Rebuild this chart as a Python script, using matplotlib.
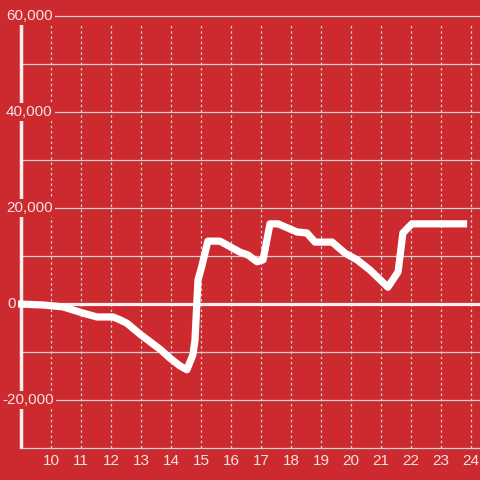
import matplotlib
matplotlib.use("Agg")
import matplotlib.pyplot as plt
from matplotlib.transforms import blended_transform_factory

# data
xs = [8.9, 9.73, 10.4, 11.07, 11.53, 12.07, 12.3, 12.53, 12.97, 13.63, 13.97, 14.3, 14.53,
      14.73, 14.8, 14.9, 15.02, 15.23, 15.63, 16.3, 16.57, 16.87, 17.07, 17.3, 17.57,
      18.2, 18.53, 18.8, 19.37, 19.8, 20.2, 20.63, 21.23, 21.57, 21.73, 22.03, 23.87]
ys = [0, -200, -600, -1900, -2700, -2700, -3300, -4000, -6300, -9400, -11300, -12900, -13700,
      -10600, -7500, 5000, 7700, 13100, 13100, 10800, 10200, 8800, 9200, 16700, 16700,
      15000, 14800, 12900, 12900, 10600, 9200, 7100, 3500, 6700, 14800, 16700, 16700]
x_ticks = list(range(10, 25))
y_ticks = [-20000, 0, 20000, 40000, 60000]
y_tick_labels = ["-20,000", "0", "20,000", "40,000", "60,000"]
y_grid = list(range(-30000, 60001, 10000))

BG = "#cd2a2f"
GRID = "#d2d2d2"
TXT = "#f3e2e2"

plt.rcParams['font.family'] = ['Liberation Sans', 'DejaVu Sans']
fig = plt.figure(figsize=(4.8, 4.8), dpi=100, facecolor=BG)
ax = fig.add_axes([20/480, (480-448)/480, 460/480, (448-16)/480])
ax.set_facecolor(BG)
ax.set_xlim(8.967, 24.3)
ax.set_ylim(-30000, 60000)
for s in ax.spines.values():
    s.set_visible(False)
ax.set_xticks([]); ax.set_yticks([])

for v in y_grid:
    if v == 0:
        continue
    ax.axhline(v, color=GRID, lw=0.9, zorder=1, clip_on=False)
for xv in x_ticks:
    ax.plot([xv, xv], [-30000, 58500], color=GRID, lw=0.9, ls=(0, (2, 2.2)), zorder=1)
ax.axhline(0, color="#f4f0f0", lw=2.3, zorder=2)
ax.plot([8.967+0.02, 8.967+0.02], [-30000, 60000], color="#f4f0f0", lw=2.5, zorder=2,
        clip_on=False, solid_capstyle='butt')

ax.plot(xs, ys, color="white", lw=5.2, zorder=4, solid_capstyle='butt',
        solid_joinstyle='round', clip_on=False)

trans = blended_transform_factory(fig.transFigure, ax.transData)
for v, lab in zip(y_ticks, y_tick_labels):
    x0 = 2/480 if lab.startswith("-") else 6/480
    if lab == "0":
        x0 = 7/480
    ax.text(x0, v, lab, transform=trans, ha='left', va='center', fontsize=11,
            color=TXT, zorder=5, clip_on=False,
            bbox=dict(boxstyle='square,pad=0.15', fc=BG, ec='none'))
for xv in x_ticks:
    ax.text(xv, -32700, str(xv), ha='center', va='center', fontsize=11,
            color=TXT, clip_on=False)

fig.savefig("out.png", dpi=100, facecolor=BG)
